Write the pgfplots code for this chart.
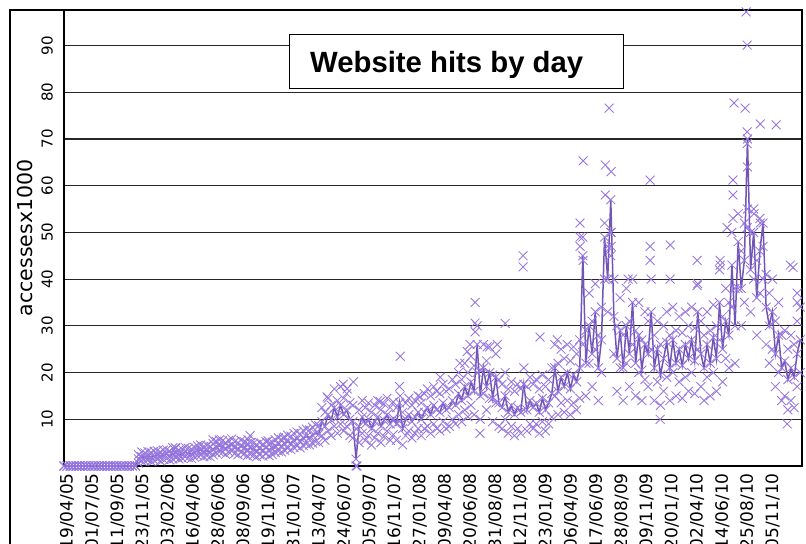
\documentclass[border=0pt]{standalone}
\usepackage{pgfplots}
\usepackage{pgfplotstable}
\usepackage{fontspec}
\pgfplotsset{compat=1.18}
\setmainfont{Liberation Sans}
\newfontfamily\dejavu{DejaVu Sans}
\definecolor{mcol}{RGB}{150,118,222}
\definecolor{lcol}{RGB}{112,84,182}

\pgfplotstableread{
x v lo hi
-9 0 0 0
0 0 0 0
9 0 0 0
18 0 0 0
27 0 0 0
36 0 0 0
45 0 0 0
54 0 0 0
63 0 0 0
72 0 0 0
81 0 0 0
90 0 0 0
99 0 0 0
108 0 0 0
117 0 0 0
126 0 0 0
135 0 0 0
144 0 0 0
153 0 0 0
162 0 0 0
171 0 0 0
180 0 0 0
189 0 0 0
198 0 0 0
207 1.5 0.6 2.4
216 2.0 1.1 3.0
225 1.8 1.0 2.8
234 2.2 1.3 3.1
243 1.9 1.0 2.9
252 2.1 1.2 3.2
261 2.4 1.5 3.3
270 2.0 1.1 3.0
279 2.3 1.4 3.4
288 2.6 1.6 3.5
297 2.2 1.3 3.2
306 2.5 1.5 3.9
315 2.8 1.8 3.8
324 2.4 1.5 3.4
333 2.6 1.7 3.6
342 3.0 2.0 4.0
351 2.7 1.8 3.8
360 2.6 1.6 3.6
369 2.9 1.9 4.0
378 3.3 2.2 4.3
387 3.4 2.3 4.5
396 3.1 2.0 4.2
405 3.3 2.2 4.4
414 3.0 2.0 4.1
423 3.6 2.4 4.8
432 4.0 2.8 5.3
441 4.3 3.0 5.6
450 4.1 2.9 5.4
459 3.8 2.5 5.0
468 4.2 3.0 5.5
477 4.5 3.2 5.8
486 4.0 2.7 5.2
495 3.7 2.4 5.0
504 4.2 2.9 5.5
513 3.9 2.6 5.2
522 3.5 2.2 4.8
531 3.8 2.5 5.0
540 3.6 2.3 4.9
549 3.3 2.0 4.6
558 3.7 2.4 5.0
567 3.4 2.1 4.7
576 3.9 2.6 5.2
585 3.5 2.2 4.8
594 3.8 2.5 5.1
603 4.2 2.9 5.6
612 4.6 3.2 6.0
621 4.3 3.0 5.7
630 4.8 3.4 6.2
639 5.2 3.8 6.6
648 4.9 3.5 6.4
657 5.5 4.0 7.0
666 5.8 4.3 7.3
675 5.4 3.9 6.9
684 6.0 4.4 7.6
693 6.3 4.7 7.9
702 6.1 4.5 7.7
711 6.6 4.9 8.3
720 7.0 5.2 8.8
729 6.8 5.0 8.6
738 9.5 6.5 12.5
747 8.5 5.5 11.5
756 11.0 7.5 14.5
765 9.8 6.5 13.0
774 12.5 8.5 16.5
783 10.5 7.0 14.0
792 13.0 9.0 17.0
801 11.0 7.5 14.5
810 12.0 8.5 15.5
819 10.0 6.5 13.5
828 9.5 6.0 13.0
837 1.5 0.0 8.0
846 8.5 5.0 12.0
855 10.5 7.0 14.0
864 9.0 5.5 12.5
873 10.0 6.5 13.5
882 8.0 4.5 11.5
891 9.5 6.0 13.0
900 10.5 7.0 14.0
909 8.5 5.0 12.0
918 9.8 6.3 13.3
927 11.0 7.5 14.5
936 9.0 5.5 12.5
945 10.2 6.7 13.7
954 9.0 5.5 12.5
963 13.5 9.5 17.0
972 8.0 4.5 11.5
981 10.0 6.5 13.5
990 11.0 7.5 14.5
999 9.5 6.0 13.0
1008 10.5 7.0 14.0
1017 11.5 8.0 15.0
1026 10.0 6.5 13.5
1035 11.5 8.0 15.5
1044 12.5 8.5 16.5
1053 11.0 7.0 15.0
1062 13.0 9.0 17.0
1071 12.0 8.0 16.0
1080 11.5 7.5 15.5
1089 13.5 9.5 17.5
1098 12.0 8.0 16.0
1107 12.5 8.5 16.5
1116 14.0 10.0 18.5
1125 13.0 9.0 17.5
1134 15.5 11.0 20.0
1143 14.0 9.5 18.5
1152 17.0 12.0 22.0
1161 15.0 10.5 20.0
1170 18.0 13.0 23.5
1179 16.0 11.0 21.5
1188 26.0 20.0 30.0
1197 15.0 10.0 20.5
1206 21.0 15.5 26.0
1215 17.0 12.0 22.5
1224 20.0 14.5 25.5
1233 14.5 9.5 19.5
1242 19.0 13.5 24.0
1251 13.5 8.5 18.5
1260 12.5 8.0 17.5
1269 15.0 10.0 20.0
1278 11.5 7.0 16.5
1287 13.0 8.5 18.0
1296 11.0 6.5 16.0
1305 12.5 8.0 17.5
1314 11.5 7.0 16.5
1323 17.5 12.0 21.0
1332 12.0 7.5 17.0
1341 14.0 9.0 19.0
1350 12.5 8.0 17.5
1359 13.5 9.0 18.5
1368 11.5 7.0 16.5
1377 14.5 9.5 19.5
1386 12.0 7.5 17.0
1395 13.5 9.0 18.5
1404 15.5 10.5 21.0
1413 21.0 15.0 26.0
1422 16.0 11.0 22.0
1431 19.0 13.5 25.0
1440 17.0 11.5 23.0
1449 20.0 14.0 26.0
1458 16.5 11.0 22.5
1467 19.5 13.5 25.5
1476 18.0 12.0 24.0
1485 21.0 14.5 27.0
1494 45.0 26.0 49.0
1503 22.0 15.0 29.0
1512 30.0 22.0 37.0
1521 24.0 17.0 31.0
1530 33.0 25.0 39.0
1539 21.0 14.0 28.0
1548 27.0 20.0 34.0
1557 49.0 40.0 52.0
1566 40.0 33.0 47.0
1575 57.0 45.0 50.0
1584 32.0 24.0 40.0
1593 23.0 16.0 30.0
1602 29.0 21.0 36.0
1611 21.0 14.0 28.0
1620 30.0 22.0 38.0
1629 24.0 17.0 31.0
1638 35.0 26.0 40.0
1647 22.0 15.0 29.0
1656 28.0 20.0 35.0
1665 20.5 14.0 27.0
1674 26.0 18.5 33.0
1683 24.0 17.0 31.0
1692 33.0 25.0 40.0
1701 21.0 14.0 28.0
1710 25.0 18.0 31.0
1719 19.5 13.0 26.0
1728 23.0 16.0 30.0
1737 26.5 19.0 33.0
1746 21.0 14.0 28.0
1755 27.0 20.0 34.0
1764 22.0 15.0 29.0
1773 25.0 18.0 32.0
1782 21.5 14.5 28.5
1791 26.0 19.0 33.0
1800 23.0 16.0 30.0
1809 27.0 20.0 34.0
1818 22.5 15.5 29.5
1827 33.0 25.0 39.0
1836 24.0 17.0 31.0
1845 21.0 14.0 28.0
1854 26.0 19.0 33.0
1863 22.0 15.0 29.0
1872 27.5 20.0 34.5
1881 23.0 16.0 30.0
1890 35.0 27.0 42.0
1899 25.0 18.0 32.0
1908 31.0 23.0 38.0
1917 28.0 21.0 35.0
1926 43.0 34.0 50.0
1935 30.0 22.0 38.0
1944 48.0 38.0 54.0
1953 38.0 30.0 46.0
1962 44.0 35.0 52.0
1971 70.0 55.0 64.0
1980 42.0 33.0 50.0
1989 50.0 40.0 55.0
1998 36.0 28.0 44.0
2007 46.0 37.0 53.0
2016 52.0 40.0 47.0
2025 34.0 26.0 41.0
2034 30.0 22.0 37.0
2043 33.0 25.0 40.0
2052 24.0 17.0 31.0
2061 28.0 20.0 35.0
2070 21.0 14.0 28.0
2079 22.5 15.0 29.0
2088 18.5 12.0 25.0
2097 21.0 14.0 28.0
2106 19.0 12.5 26.0
2115 24.0 17.0 31.0
2124 27.0 20.0 34.0
}\hits

\pgfplotstableread{
x y
313 3.9
423 5.6
524 5.6
530 6.5
582 5.4
626 6.0
753 14.8
800 17.5
811 16.5
829 18.0
840 0
907 13.8
965 15.0
965 23.5
1023 14.8
1081 19.0
1138 22.0
1159 24.5
1167 26.0
1182 35.0
1182 30.6
1182 28.7
1196 7.0
1217 25.5
1246 26.0
1269 30.5
1321 45.0
1321 42.6
1370 27.6
1420 27.0
1486 52.0
1486 49.0
1486 47.0
1495 65.3
1495 44.0
1559 58.0
1559 64.4
1570 76.6
1576 63.0
1576 50.0
1576 47.0
1625 40.0
1689 61.2
1689 47.0
1689 44.0
1718 10.0
1747 47.3
1747 40.0
1825 44.0
1825 38.6
1892 44.0
1892 43.0
1912 51.0
1929 61.2
1929 58.0
1929 53.0
1932 77.7
1964 76.6
1967 97.2
1970 90.1
1970 71.5
1970 69.0
1970 51.0
1990 54.0
2008 73.2
2008 52.0
2054 73.0
2086 9.0
2095 43.0
2103 42.5
2115 37.0
2115 35.0
}\outl

\begin{document}
\begin{tikzpicture}[x=1bp,y=1bp]
\begin{axis}[
  at={(64bp,78bp)}, anchor=south west,
  width=738bp, height=456bp, scale only axis,
  xmin=-9, xmax=2129, ymin=0, ymax=97.6,
  clip=false,
  axis line style={line width=1.4bp, black},
  tick style={draw=none},
  major tick length=0pt,
  ymajorgrids,
  major grid style={line width=1.2bp, black!85},
  xtick={0,73,...,2044},
  xticklabels={19/04/05,01/07/05,11/09/05,23/11/05,03/02/06,16/04/06,28/06/06,08/09/06,19/11/06,31/01/07,13/04/07,24/06/07,05/09/07,16/11/07,27/01/08,09/04/08,20/06/08,31/08/08,12/11/08,23/01/09,06/04/09,17/06/09,28/08/09,09/11/09,20/01/10,02/04/10,14/06/10,25/08/10,05/11/10},
  xticklabel style={font=\dejavu\fontsize{17bp}{20bp}\selectfont, rotate=90, anchor=east, inner sep=0pt, inner xsep=7bp},
  ytick={10,20,...,90},
  /pgf/number format/assume math mode=true,
  yticklabel style={font=\dejavu\fontsize{15bp}{18bp}\selectfont, rotate=90, anchor=south, inner sep=0pt, inner ysep=11bp},
  ylabel={accessesx1000},
  every axis y label/.style={at={(axis description cs:-0.0522,0.5)}, rotate=90, anchor=center, font=\dejavu\fontsize{20.5bp}{24bp}\selectfont},
]
\addplot[only marks, mark=x, mark size=6.3pt, color=mcol, line width=0.85bp] table[x=x,y=lo] {\hits};
\addplot[only marks, mark=x, mark size=6.3pt, color=mcol, line width=0.85bp] table[x=x,y=hi] {\hits};
\addplot[only marks, mark=x, mark size=6.3pt, color=mcol, line width=0.85bp] table[x=x,y=v] {\hits};
\addplot[only marks, mark=x, mark size=6.3pt, color=mcol, line width=0.85bp] table[x=x,y=y] {\outl};
\addplot[color=lcol, line width=1.5bp, mark=none] table[x=x,y=v] {\hits};
\end{axis}
\draw[line width=1.4bp] (10,0) -- (10,534) -- (64,534);
\draw[line width=1bp, fill=white] (289,455) rectangle (623,509);
\node[anchor=base west, inner sep=0pt, font=\bfseries\fontsize{29.3bp}{34bp}\selectfont] at (310,471) {Website hits by day};
\pgfresetboundingbox
\useasboundingbox (0,0) rectangle (806,544);
\end{tikzpicture}
\end{document}
